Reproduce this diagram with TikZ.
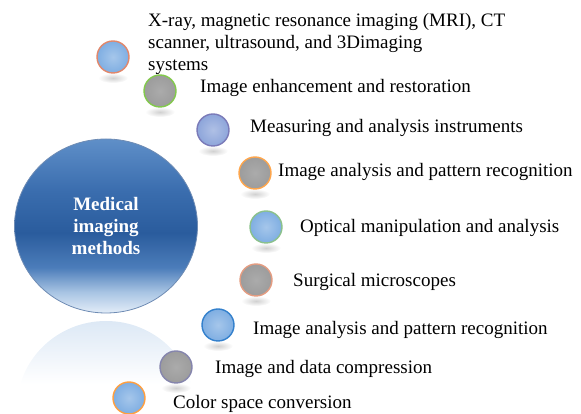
\documentclass[tikz,border=0pt]{standalone}
\usepackage{fontspec}
\setmainfont{Liberation Serif}
\usetikzlibrary{shapes.geometric}

\definecolor{dotblue}{HTML}{7FAEE2}
\definecolor{dotlav}{HTML}{8DA5DA}
\definecolor{dotgray}{HTML}{9C9C9C}
\definecolor{bigedge}{HTML}{6F8CB4}
\definecolor{shine}{HTML}{DCE8F5}

% Цвета заливки большого круга (снизу вверх)
\definecolor{ballA}{RGB}{227,237,248}
\definecolor{ballB}{RGB}{168,196,227}
\definecolor{ballC}{RGB}{76,125,186}
\definecolor{ballD}{RGB}{42,92,157}
\definecolor{ballE}{RGB}{58,109,174}
\definecolor{ballF}{RGB}{95,143,200}

\pgfdeclareverticalshading{bigball}{100bp}{
  color(0bp)=(ballA);
  color(25bp)=(ballA);
  color(31bp)=(ballB);
  color(38bp)=(ballC);
  color(48bp)=(ballD);
  color(60bp)=(ballE);
  color(75bp)=(ballF);
  color(100bp)=(ballF)
}

\tikzset{
  dot/.style={
    circle,
    minimum size=32pt,
    inner sep=0pt,
    line width=1.4pt
  },
  blue dot/.style={dot,inner color=dotblue!70!white,outer color=dotblue},
  gray dot/.style={dot,inner color=dotgray!85!white,outer color=dotgray},
  item/.style={
    anchor=west,
    inner sep=0pt,
    align=left,
    font=\fontsize{19}{22}\selectfont
  }
}

\begin{document}
\begin{tikzpicture}[x=1pt,y=1pt]
  \useasboundingbox (0,0) rectangle (581,414);

  % Отражение большого круга
  \begin{scope}
    \clip (106,6) ellipse[x radius=89,y radius=87];
    \shade[top color=shine,bottom color=white]
      (0,30) rectangle (240,94);
  \end{scope}

  % Большой круг
  \node[
    ellipse,
    minimum width=183pt,
    minimum height=174pt,
    inner sep=0pt,
    draw=bigedge,
    line width=0.8pt,
    shading=bigball,
    text=white,
    align=center,
    font=\fontsize{19}{22}\selectfont\bfseries
  ] (m) at (106,188) {Medical\\imaging\\methods};

  % Отражения маленьких кругов
  \foreach \x/\y in {113/357,160/323,213/284,255/241,266/187,
                     256/134,218/89,176/47}
    \shade[inner color=black!18,outer color=white]
      (\x,\y-21) ellipse[x radius=15,y radius=5];

  % Маленькие круги
  \node[blue dot,draw=red!35!brown!70!white] (c1) at (113,357) {};
  \node[gray dot,draw=green!40!olive!70!white] (c2) at (160,323) {};
  \node[dot,inner color=dotlav!70!white,outer color=dotlav,
        draw=blue!30!gray!80!white] (c3) at (213,284) {};
  \node[gray dot,draw=orange!70!white] (c4) at (255,241) {};
  \node[blue dot,draw=green!30!gray!70!white] (c5) at (266,187) {};
  \node[gray dot,draw=red!30!brown!60!white] (c6) at (256,134) {};
  \node[blue dot,draw=blue!50!cyan!60!gray] (c7) at (218,89) {};
  \node[gray dot,draw=blue!20!gray!80!white] (c8) at (176,47) {};
  \node[blue dot,draw=orange!75!white] (c9) at (129,16) {};

  % Подписи
  \node[item] (t1) at (148,370)
    {X-ray, magnetic resonance imaging (MRI), CT\\
     scanner, ultrasound, and 3Dimaging\\systems};
  \node[item] (t2) at (200,326) {Image enhancement and restoration};
  \node[item] (t3) at (250,286) {Measuring and analysis instruments};
  \node[item] (t4) at (278,242) {Image analysis and pattern recognition};
  \node[item] (t5) at (300,186) {Optical manipulation and analysis};
  \node[item] (t6) at (293,132) {Surgical microscopes};
  \node[item] (t7) at (253,84) {Image analysis and pattern recognition};
  \node[item] (t8) at (215,45) {Image and data compression};
  \node[item] (t9) at (173,10) {Color space conversion};
\end{tikzpicture}
\end{document}
